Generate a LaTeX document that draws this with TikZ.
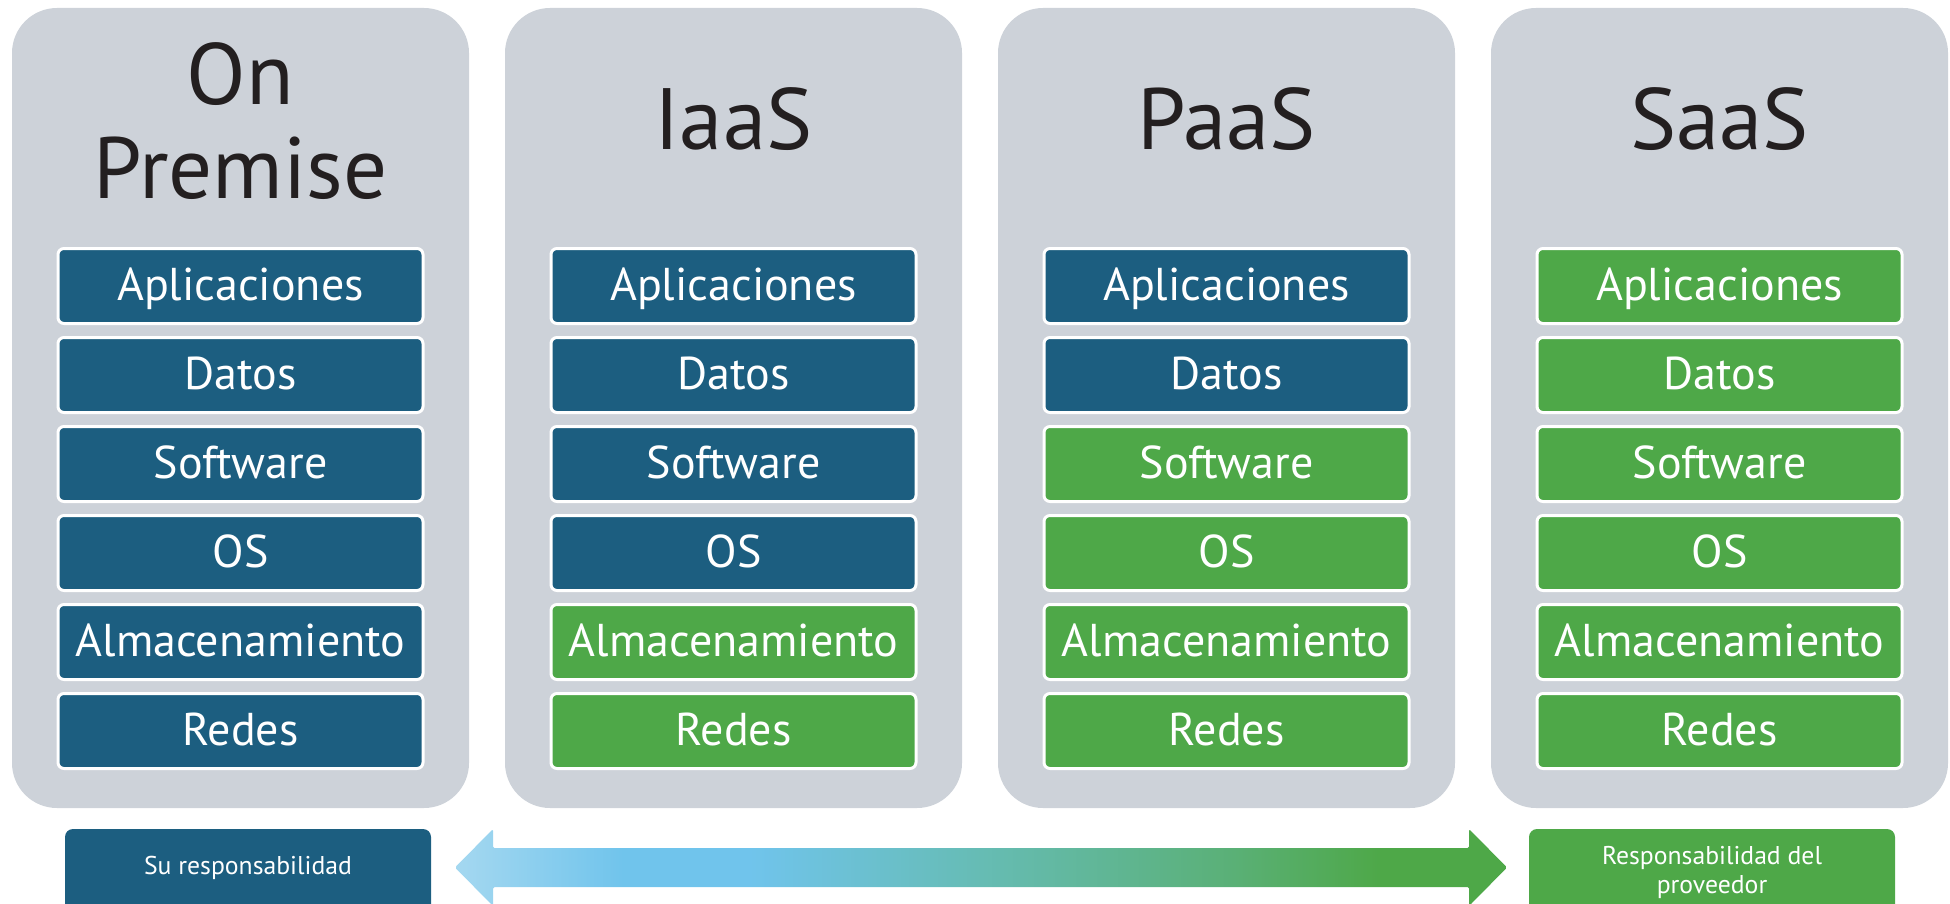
\documentclass[tikz,border=0pt]{standalone}
\usepackage{fontspec}
\setmainfont{PT Sans}
\definecolor{panelgray}{RGB}{205,210,217}
\definecolor{youblue}{RGB}{28,94,128}
\definecolor{provgreen}{RGB}{78,168,72}
\definecolor{titlecol}{RGB}{35,31,32}
\definecolor{arrA}{RGB}{165,216,240}
\definecolor{arrB}{RGB}{112,196,236}
\definecolor{arrC}{RGB}{102,188,180}
\definecolor{arrD}{RGB}{90,176,118}
\pgfdeclarehorizontalshading{arrowshade}{100bp}{color(0bp)=(arrA); color(25bp)=(arrA); color(33bp)=(arrB); color(39bp)=(arrB); color(50bp)=(arrC); color(62bp)=(arrD); color(69bp)=(provgreen); color(75bp)=(provgreen); color(100bp)=(provgreen)}
\tikzset{
  panel/.style={fill=panelgray, rounded corners=45pt, minimum width=457pt, minimum height=800pt, inner sep=0pt},
  title/.style={text=titlecol, font=\fontsize{87}{94}\selectfont, align=center, inner sep=0pt},
  layer/.style={draw=white, line width=3pt, rounded corners=6pt, minimum width=365pt, minimum height=75pt, inner sep=0pt, text=white, font=\fontsize{46}{50}\selectfont, text height=36pt, text depth=8pt},
  legend/.style={rounded corners=8pt, minimum width=366pt, minimum height=86pt, inner sep=0pt, text=white, font=\fontsize{25.7}{30}\selectfont}
}
\begin{document}
\begin{tikzpicture}[x=1pt,y=-1pt]
\useasboundingbox (0,0) rectangle (1950,904);
% panels
\foreach \i/\cx in {1/240.5,2/733.5,3/1226.5,4/1719.5}
  \node[panel] (p\i) at (\cx,408) {};
% titles (base anchor = last line)
\node[title, anchor=base] (t1) at (240.5,199) {On\\Premise};
\node[title, anchor=base] (t2) at (733.5,150) {IaaS};
\node[title, anchor=base] (t3) at (1226.5,150) {PaaS};
\node[title, anchor=base] (t4) at (1719.5,150) {SaaS};
% layers
\foreach \c/\cx/\n in {1/240.5/6, 2/733.5/4, 3/1226.5/2, 4/1719.5/0} {
  \foreach \t [count=\r] in {Aplicaciones,Datos,Software,OS,Almacenamiento,Redes} {
    \pgfmathsetmacro\yy{286+89*(\r-1)}
    \ifnum\r>\n \def\fc{provgreen}\else\def\fc{youblue}\fi
    \node[layer, fill=\fc] (b\c-\r) at (\cx,\yy) {\t};
  }
}
% arrow
\coordinate (arrL) at (455,867.5);
\coordinate (arrR) at (1507,867.5);
\shade[shading=arrowshade, rounded corners=1.5pt]
  (arrL) -- (493,829) -- (493,848) -- (1469,848) -- (1469,829) -- (arrR)
  -- (1469,906) -- (1469,887) -- (493,887) -- (493,906) -- cycle;
% legend
\node[legend, fill=youblue, text height=19pt, text depth=15pt] (su) at (248,872) {Su responsabilidad};
\node[legend, fill=provgreen, align=center] (prov) at (1712,872) {Responsabilidad del\\[-1pt]proveedor};
\end{tikzpicture}
\end{document}
